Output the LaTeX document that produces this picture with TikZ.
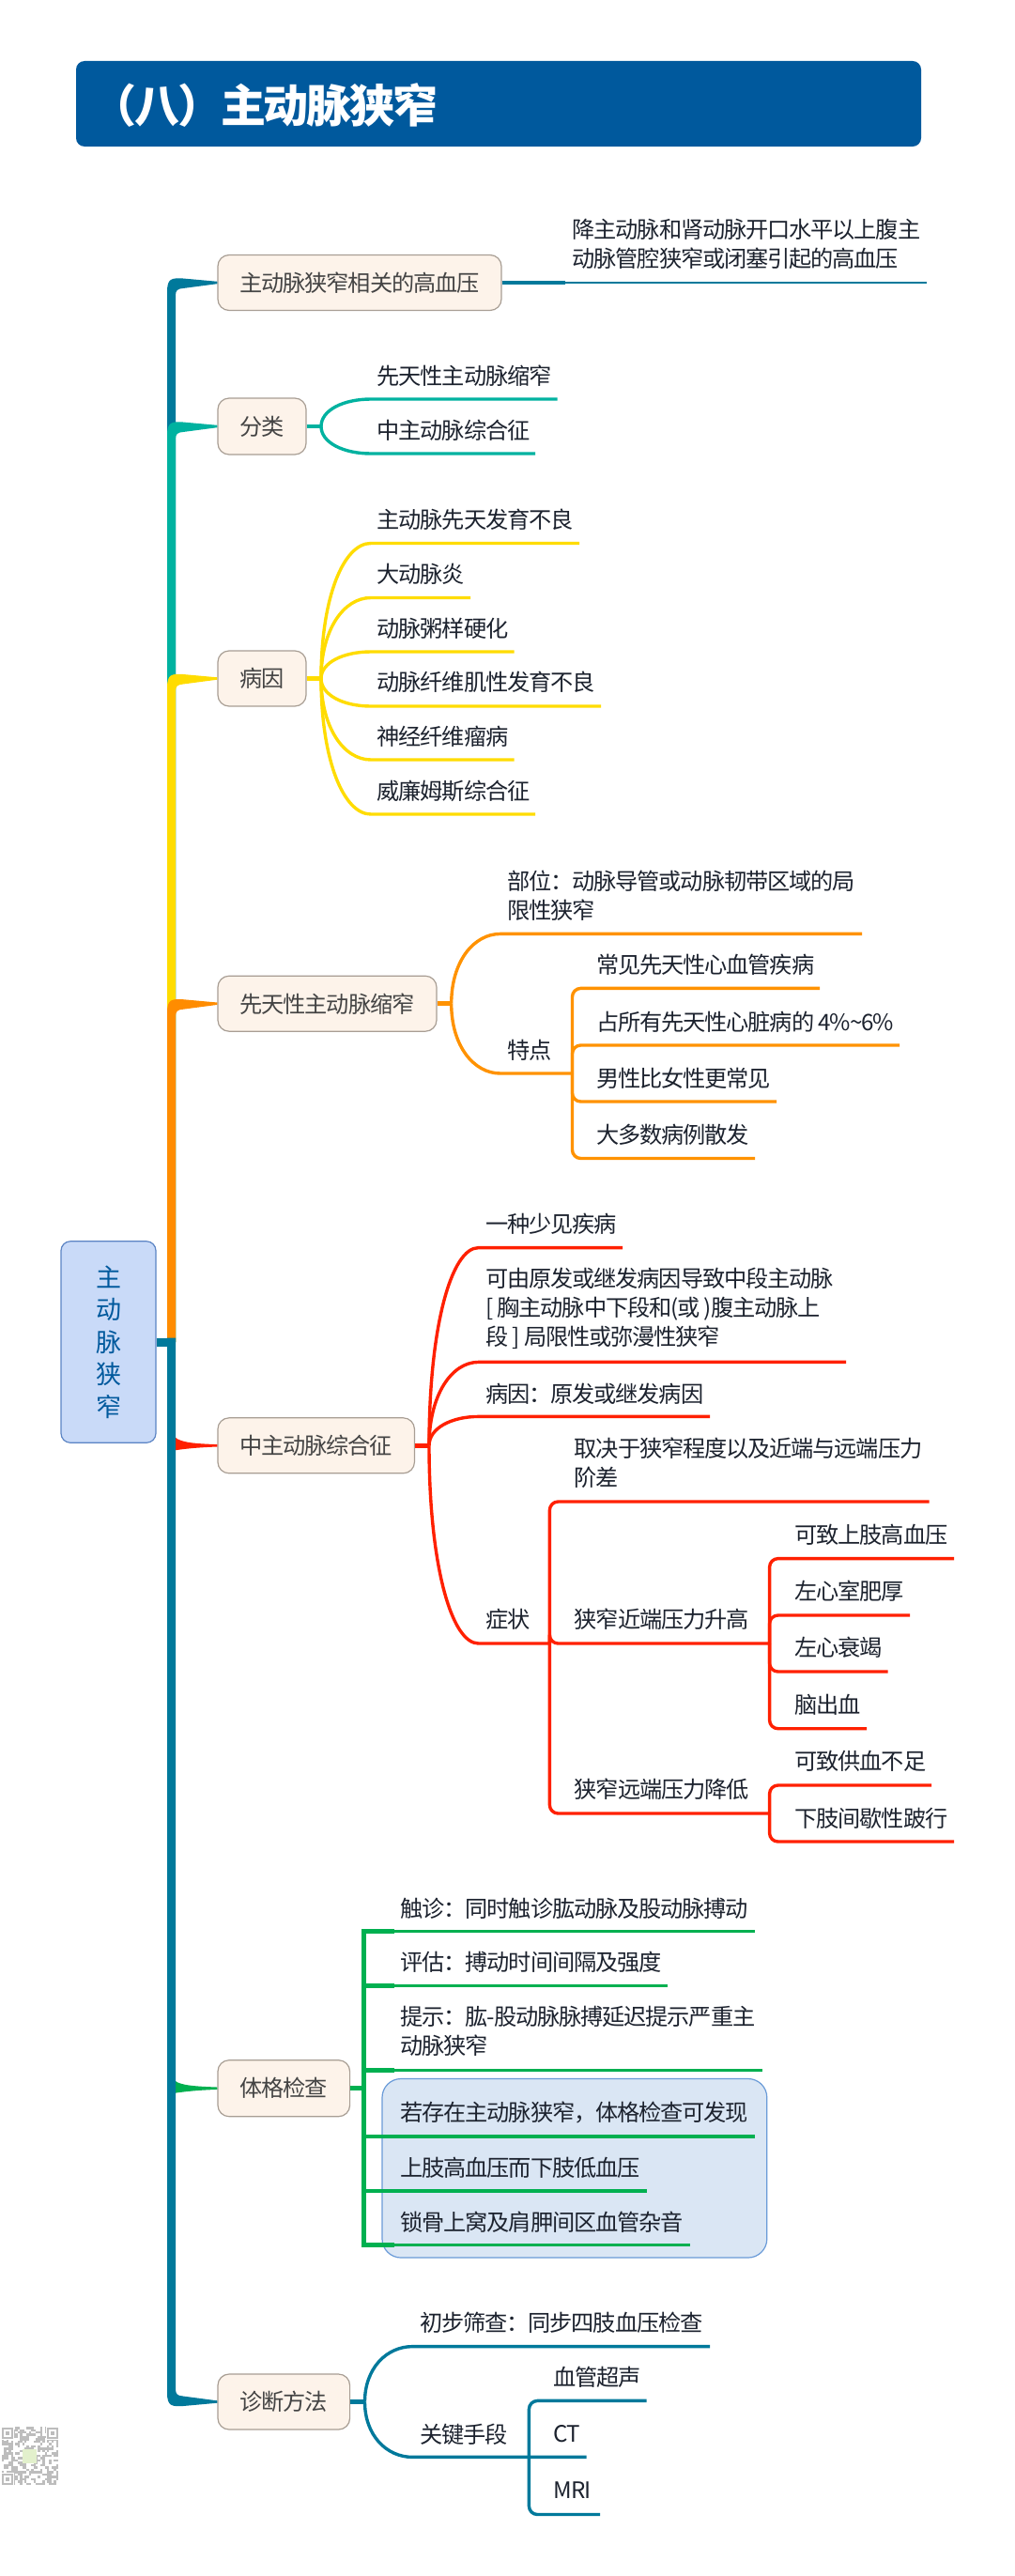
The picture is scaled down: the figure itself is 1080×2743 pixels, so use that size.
\documentclass[tikz,border=0pt]{standalone}
\usepackage{fontspec}
\setmainfont{Noto Sans CJK SC}[LetterSpace=-4.6]
\usetikzlibrary{calc}
\definecolor{ctitle}{HTML}{00599D}
\definecolor{cdteal}{HTML}{00799B}
\definecolor{cteal}{HTML}{00B2A0}
\definecolor{cyellow}{HTML}{FFDC00}
\definecolor{corange}{HTML}{FF9200}
\definecolor{cspor}{HTML}{FF8C00}
\definecolor{cred}{HTML}{FF2000}
\definecolor{cgreen}{HTML}{00B050}
\definecolor{ctopic}{HTML}{FDF3EA}
\definecolor{ctopicb}{HTML}{A89E94}
\definecolor{ctxt}{HTML}{1C222E}
\definecolor{cttxt}{HTML}{444444}
\definecolor{cqr}{HTML}{BDBDBD}
\definecolor{crootf}{HTML}{C9DAF8}
\definecolor{crootb}{HTML}{5B84C4}
\definecolor{chlf}{HTML}{DAE6F4}
\definecolor{chlb}{HTML}{6A9BD8}
\definecolor{cqrc}{HTML}{E2F0CC}
\newcommand\st{\rule[-0.12em]{0pt}{0.88em}}
\tikzset{
  x=1pt,y=-1pt,
  topicbox/.style={draw=ctopicb,fill=ctopic,line width=1.2pt,rounded corners=12pt,inner sep=0pt,text=cttxt,font=\fontsize{24.2}{31}\selectfont,anchor=center},
  leaftext/.style={inner sep=0pt,anchor=west,align=left,text=ctxt,font=\fontsize{24.2}{31}\selectfont},
  conn/.style={line width=3.4pt,line cap=butt,line join=round},
}
% name, x, text centre y, line y, line start x, line end x, text
\newcommand\leaf[7]{%
  \node[leaftext] (#1) at (#2,#3) {\st #7};
  \coordinate (#1-s) at (#5,#4);
  \coordinate (#1-e) at (#6,#4);
}
% curved connector: hub to the start of a leaf line, on to its end
\newcommand\curveconn[3]{%
  \draw[conn,draw=#3] let \p1=(#1), \p2=(#2-s) in (#1)
    .. controls (\x1,{\y1+0.6*(\y2-\y1)}) and ({\x1+0.45*(\x2-\x1)},\y2) .. (#2-s) -- (#2-e);
}
% elbow connector with a rounded corner
\newcommand\elbowconn[3]{%
  \draw[conn,draw=#3,rounded corners=9pt] (#1) |- (#2-e);
}
% spine branch going up from the root level to a topic
\newcommand\spineup[3]{%
  \fill[#3] let \p1=(#1.west), \p2=(#2) in
    (\x2,\y2) -- (\x2,{\y1-10pt})
    .. controls (\x2,{\y1+5pt}) and ({\x2+5pt},{\y1+5pt}) .. ({\x2+17pt},{\y1+4.5pt})
    -- (\x1,{\y1+1.2pt}) -- (\x1,{\y1-1.2pt}) -- ({\x2+17pt},{\y1-6pt})
    .. controls ({\x2+11pt},{\y1-6.5pt}) and ({\x2+9pt},{\y1-8pt}) .. ({\x2+9pt},{\y1-14pt})
    -- ({\x2+9pt},\y2) -- cycle;
}
% spine branch going down from the root level to a topic
\newcommand\spinedown[3]{%
  \fill[#3] let \p1=(#1.west), \p2=(#2) in
    (\x2,\y2) -- (\x2,{\y1+10pt})
    .. controls (\x2,{\y1-5pt}) and ({\x2+5pt},{\y1-5pt}) .. ({\x2+17pt},{\y1-4.5pt})
    -- (\x1,{\y1-1.2pt}) -- (\x1,{\y1+1.2pt}) -- ({\x2+17pt},{\y1+6pt})
    .. controls ({\x2+11pt},{\y1+6.5pt}) and ({\x2+9pt},{\y1+8pt}) .. ({\x2+9pt},{\y1+14pt})
    -- ({\x2+9pt},\y2) -- cycle;
}
% flare of a branch hidden behind the lower spine
\newcommand\flare[4]{%
  \fill[#2] let \p1=(#1.west) in ({\x1-45pt},{\y1+#3}) .. controls ({\x1-39pt},{\y1+3pt}) and ({\x1-22pt},{\y1+2pt}) .. (\x1,{\y1+1.2pt}) -- (\x1,{\y1-1.2pt}) .. controls ({\x1-22pt},{\y1-2pt}) and ({\x1-35pt},{\y1-3.5pt}) .. ({\x1-45pt},{\y1-#4}) -- cycle;
}
\begin{document}
\begin{tikzpicture}
\useasboundingbox (0,0) rectangle (1080,2743);
\fill[white] (0,0) rectangle (1080,2743);

% title
\fill[ctitle,rounded corners=9pt] (81,65) rectangle (981,156);
\node[inner sep=0pt,anchor=west,text=white,font=\fontsize{48}{50}\selectfont\bfseries] (title) at (97.5,112) {（八）主动脉狭窄};

% topics
\node[topicbox,minimum width=302,minimum height=59] (t1) at (383,301) {主动脉狭窄相关的高血压};
\node[topicbox,minimum width=94,minimum height=60] (t2) at (279,454) {分类};
\node[topicbox,minimum width=94,minimum height=59] (t3) at (279,722.5) {病因};
\node[topicbox,minimum width=233,minimum height=59] (t4) at (348.5,1068.7) {先天性主动脉缩窄};
\node[topicbox,minimum width=209.5,minimum height=59] (t5) at (336.7,1539.3) {中主动脉综合征};
\node[topicbox,minimum width=140.6,minimum height=60] (t6) at (302.3,2223.7) {体格检查};
\node[topicbox,minimum width=140.6,minimum height=59] (t7) at (302.3,2557.5) {诊断方法};

\coordinate (spL) at (178,1429);
\coordinate (spB) at (178,1424.5);
\coordinate (spC) at (182.5,1429);

% spine, upper half
\spineup{t1}{spL}{cdteal}
\spineup{t2}{spL}{cteal}
\spineup{t3}{spL}{cyellow}
\spineup{t4}{spL}{cspor}
% spine, lower half
\flare{t5}{cred}{9pt}{5pt}
\flare{t6}{cgreen}{8pt}{5pt}
\spinedown{t7}{spB}{cdteal}

% root
\node[draw=crootb,fill=crootf,minimum width=101,minimum height=214.5,rounded corners=10pt,inner sep=0pt,align=center,text=ctitle,font=\fontsize{27}{34.6}\selectfont,line width=1.2pt] (root) at (115.5,1429) {主\\动\\脉\\狭\\窄};
\draw[cdteal,line width=9pt] (root.east) -- (spC);

% t1
\coordinate (t1hub) at (602,301);
\coordinate (t1end) at (987,301);
\draw[cdteal,line width=4.5pt] (t1) -- (t1hub);
\draw[cdteal,line width=2.8pt] (t1hub) -- (t1end);
\node[leaftext] (t1a) at (609.5,260) {降主动脉和肾动脉开口水平以上腹主\\动脉管腔狭窄或闭塞引起的高血压};

% t2
\coordinate (t2hub) at (342,454);
\draw[cteal,line width=4.5pt] (t2) -- (t2hub);
\leaf{a1}{401.5}{400.5}{425}{395}{593.7}{先天性主动脉缩窄}
\leaf{a2}{401.5}{458.5}{483}{395}{570}{中主动脉综合征}
\curveconn{t2hub}{a1}{cteal}
\curveconn{t2hub}{a2}{cteal}

% t3
\coordinate (t3hub) at (342,722.5);
\draw[cyellow,line width=4.5pt] (t3) -- (t3hub);
\leaf{b1}{401.5}{554}{578.5}{395}{617}{主动脉先天发育不良}
\leaf{b2}{401.5}{612}{636.5}{395}{501}{大动脉炎}
\leaf{b3}{401.5}{670}{694}{395}{547.5}{动脉粥样硬化}
\leaf{b4}{401.5}{727}{752}{395}{640}{动脉纤维肌性发育不良}
\leaf{b5}{401.5}{785}{809}{395}{547.5}{神经纤维瘤病}
\leaf{b6}{401.5}{843}{867}{395}{570}{威廉姆斯综合征}
\curveconn{t3hub}{b1}{cyellow}
\curveconn{t3hub}{b2}{cyellow}
\curveconn{t3hub}{b3}{cyellow}
\curveconn{t3hub}{b4}{cyellow}
\curveconn{t3hub}{b5}{cyellow}
\curveconn{t3hub}{b6}{cyellow}

% t4
\coordinate (t4hub) at (480.7,1068.7);
\draw[corange,line width=4.5pt] (t4) -- (t4hub);
\leaf{c1}{540}{953.5}{994.4}{533}{918}{部位：动脉导管或动脉韧带区域的局\\限性狭窄}
\leaf{c2}{540}{1119}{1143}{533}{609.5}{特点}
\curveconn{t4hub}{c1}{corange}
\curveconn{t4hub}{c2}{corange}
\leaf{c3}{635}{1028}{1052.4}{609.5}{873}{常见先天性心血管疾病}
\leaf{c4}{635}{1089}{1113}{609.5}{958}{占所有先天性心脏病的 4\%\string~6\%}
\leaf{c5}{635}{1149}{1173}{609.5}{827}{男性比女性更常见}
\leaf{c6}{635}{1209}{1233.5}{609.5}{804}{大多数病例散发}
\elbowconn{c2-e}{c3}{corange}
\elbowconn{c2-e}{c4}{corange}
\elbowconn{c2-e}{c5}{corange}
\elbowconn{c2-e}{c6}{corange}

% t5
\coordinate (t5hub) at (457,1539.3);
\draw[cred,line width=4.5pt] (t5) -- (t5hub);
\leaf{d1}{517}{1304}{1328.6}{509.6}{663}{一种少见疾病}
\leaf{d2}{517}{1393}{1450.4}{509.6}{901}{可由原发或继发病因导致中段主动脉\\{[} 胸主动脉中下段和(或 )腹主动脉上\\段 ] 局限性或弥漫性狭窄}
\leaf{d3}{517}{1485}{1508.4}{509.6}{756}{病因：原发或继发病因}
\leaf{d4}{517}{1725}{1750}{509.6}{585.4}{症状}
\curveconn{t5hub}{d1}{cred}
\curveconn{t5hub}{d2}{cred}
\curveconn{t5hub}{d3}{cred}
\curveconn{t5hub}{d4}{cred}
\leaf{e1}{611.6}{1558}{1599}{585.4}{989.7}{取决于狭窄程度以及近端与远端压力\\阶差}
\leaf{e2}{611.6}{1725}{1750}{585.4}{819.6}{狭窄近端压力升高}
\leaf{e3}{611.6}{1906}{1931}{585.4}{819.6}{狭窄远端压力降低}
\elbowconn{d4-e}{e1}{cred}
\elbowconn{d4-e}{e2}{cred}
\elbowconn{d4-e}{e3}{cred}
\leaf{f1}{846.4}{1634.7}{1659.6}{819.6}{1016}{可致上肢高血压}
\leaf{f2}{846.4}{1695}{1720}{819.6}{969}{左心室肥厚}
\leaf{f3}{846.4}{1755}{1780}{819.6}{945.6}{左心衰竭}
\leaf{f4}{846.4}{1816}{1840.7}{819.6}{923}{脑出血}
\elbowconn{e2-e}{f1}{cred}
\elbowconn{e2-e}{f2}{cred}
\elbowconn{e2-e}{f3}{cred}
\elbowconn{e2-e}{f4}{cred}
\leaf{g1}{846.4}{1876}{1901}{819.6}{992}{可致供血不足}
\leaf{g2}{846.4}{1936.7}{1961}{819.6}{1016}{下肢间歇性跛行}
\elbowconn{e3-e}{g1}{cred}
\elbowconn{e3-e}{g2}{cred}

% t6
\node[draw=chlb,fill=chlf,line width=1.2pt,rounded corners=20pt,inner sep=0pt,minimum width=409.8,minimum height=190.5] (hl) at (611.9,2308.75) {};
\coordinate (t6hub) at (387.7,2223.7);
\draw[cgreen,line width=4.5pt] (t6) -- (t6hub);
\leaf{h1}{426.3}{2032.4}{2056.7}{420}{804.4}{触诊：同时触诊肱动脉及股动脉搏动}
\leaf{h2}{426.3}{2090}{2114.4}{420}{711}{评估：搏动时间间隔及强度}
\leaf{h3}{426.3}{2163}{2204.7}{420}{812}{提示：肱-股动脉脉搏延迟提示严重主\\动脉狭窄}
\leaf{h4}{426.3}{2250}{2275}{420}{804.4}{若存在主动脉狭窄，体格检查可发现}
\leaf{h5}{426.3}{2308.7}{2333}{420}{688.7}{上肢高血压而下肢低血压}
\leaf{h6}{426.3}{2366.5}{2390.7}{420}{735}{锁骨上窝及肩胛间区血管杂音}
\foreach \n in {h1,h2,h3,h4,h5,h6}{
  \draw[cgreen,line width=4.6pt,line join=miter] (t6hub) |- (\n-s);
  \draw[cgreen,line width=3.2pt] (\n-s) -- (\n-e);
}

% t7
\coordinate (t7hub) at (388.5,2557.5);
\draw[cdteal,line width=4.5pt] (t7) -- (t7hub);
\leaf{k1}{447}{2474}{2498.6}{439.4}{756}{初步筛查：同步四肢血压检查}
\leaf{k2}{447}{2592.7}{2616.4}{439.4}{624.6}{关键手段}
\curveconn{t7hub}{k1}{cdteal}
\curveconn{t7hub}{k2}{cdteal}
\coordinate (k2hub) at (563.4,2616.4);
\leaf{m1}{589.5}{2532}{2556.4}{563.4}{688.7}{血管超声}
\leaf{m2}{589.5}{2592.7}{2616.4}{563.4}{624.6}{CT}
\leaf{m3}{589.5}{2653}{2677.5}{563.4}{639}{MRI}
\elbowconn{k2hub}{m1}{cdteal}
\elbowconn{k2hub}{m3}{cdteal}

% QR code
\pgfmathsetseed{4217}
\foreach \i in {0,...,24}{
  \foreach \j in {0,...,24}{
    \pgfmathtruncatemacro{\qrb}{rnd<0.55?1:0}
    \ifnum\qrb=1
      \fill[cqr] ({2+\i*2.4},{2584+\j*2.48}) rectangle ++(2.4,2.48);
    \fi
  }
}
\foreach \qx/\qy in {1/2584,49/2584,1/2633}{
  \fill[white] (\qx,\qy) rectangle ++(14,14);
  \draw[cqr,line width=2.2pt] ({\qx+2},{\qy+2}) rectangle ++(10,10);
  \fill[cqr] ({\qx+5},{\qy+5}) rectangle ++(4,4);
}
\fill[cqrc] (24,2608) rectangle (39,2623);
\end{tikzpicture}
\end{document}
